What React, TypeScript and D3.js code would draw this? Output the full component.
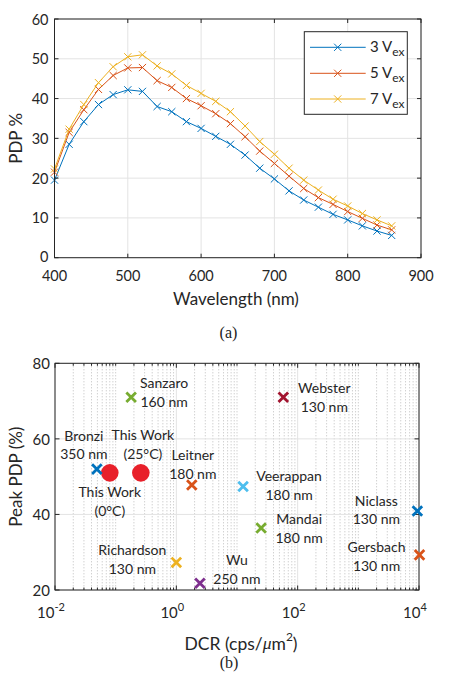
import React from "react";
import * as d3 from "d3";

// ---------- Data: chart (a) ----------
const wavelengths = [400, 420, 440, 460, 480, 500, 520, 540, 560, 580, 600, 620, 640, 660, 680, 700, 720, 740, 760, 780, 800, 820, 840, 860];
const pdp3V = [19.5, 28.5, 34.2, 38.5, 41.0, 42.2, 41.8, 38.0, 36.7, 34.2, 32.5, 30.5, 28.5, 25.8, 22.5, 19.8, 16.8, 14.5, 12.7, 10.9, 9.5, 8.0, 6.7, 5.6];
const pdp5V = [21.5, 31.5, 37.2, 42.3, 45.8, 47.7, 47.8, 44.5, 42.8, 40.0, 38.2, 36.2, 33.7, 30.4, 26.8, 23.7, 20.5, 17.4, 15.1, 13.4, 11.6, 9.9, 8.2, 7.0];
const pdp7V = [22.3, 32.3, 38.5, 44.0, 48.0, 50.5, 51.0, 48.2, 46.2, 43.3, 41.3, 39.3, 36.7, 33.1, 29.2, 26.0, 22.5, 19.5, 17.0, 14.7, 13.0, 11.1, 9.5, 8.0];
const seriesNames = ["3", "5", "7"];
const xTicksA = [400, 500, 600, 700, 800, 900];
const yTicksA = [0, 10, 20, 30, 40, 50, 60];

// ---------- Data: chart (b) ----------
const refNames = ["Bronzi", "Sanzaro", "Leitner", "Richardson", "Wu", "Webster", "Veerappan", "Mandai", "Niclass", "Gersbach"];
const refNodes = ["350 nm", "160 nm", "180 nm", "130 nm", "250 nm", "130 nm", "180 nm", "180 nm", "130 nm", "130 nm"];
const refDCR = [0.049, 0.18, 1.8, 1.0, 2.45, 58, 12.6, 25, 9400, 10200];
const refPDP = [52, 71, 47.8, 27.3, 21.8, 71, 47.4, 36.4, 40.9, 29.3];
const workNames = ["This Work", "This Work"];
const workTemps = ["(0°C)", "(25°C)"];
const workDCR = [0.08, 0.26];
const workPDP = [51, 51];
const xTicksB = [1e-2, 1, 1e2, 1e4];
const xTickExpB = ["-2", "0", "2", "4"];
const yTicksB = [20, 40, 60, 80];

// ---------- Styles / layout ----------
const lineColors = ["#0072BD", "#D95319", "#EDB120"];
const refColors = ["#0072BD", "#77AC30", "#D95319", "#EDB120", "#7E2F8E", "#A2142F", "#4DBEEE", "#77AC30", "#0072BD", "#D95319"];
const refLabelOffsets: [number, number][] = [
  [-13, -34], [33, -14.5], [1, -30], [-44, -12.7], [37, -23.3],
  [41, -9.4], [46, -11], [38, -9.3], [-41, -11], [-43, -8.3],
];
const workLabelOffsets: [number, number][] = [[0, 19], [2, -38.3]];
const FONT = "Lato, 'Open Sans', sans-serif";
const AX = "#262626";
const GRID = "#e3e3e3";

const XMark = ({ x, y, s, color, w }: { x: number; y: number; s: number; color: string; w: number }) => (
  <path d={`M${x - s},${y - s}L${x + s},${y + s}M${x - s},${y + s}L${x + s},${y - s}`} stroke={color} strokeWidth={w} fill="none" />
);

function ChartA() {
  const L = 54.5, R = 421, T = 19, B = 257.7;
  const x = d3.scaleLinear().domain([400, 900]).range([L, R]);
  const y = d3.scaleLinear().domain([0, 60]).range([B, T]);
  const all = [pdp3V, pdp5V, pdp7V];
  const line = d3.line<number>().x((_, i) => x(wavelengths[i])).y((d) => y(d));
  const legY = [47.3, 73.3, 99];
  return (
    <g>
      {xTicksA.map((t) => (
        <line key={"gx" + t} x1={x(t)} x2={x(t)} y1={T} y2={B} stroke={GRID} strokeWidth={1} />
      ))}
      {yTicksA.map((t) => (
        <line key={"gy" + t} x1={L} x2={R} y1={y(t)} y2={y(t)} stroke={GRID} strokeWidth={1} />
      ))}
      {all.map((s, k) => (
        <g key={"s" + k}>
          <path d={line(s) || ""} fill="none" stroke={lineColors[k]} strokeWidth={1} />
          {s.map((v, i) => (
            <XMark key={i} x={x(wavelengths[i])} y={y(v)} s={3.6} color={lineColors[k]} w={1} />
          ))}
        </g>
      ))}
      <rect x={L} y={T} width={R - L} height={B - T} fill="none" stroke={AX} strokeWidth={1} />
      {xTicksA.map((t) => (
        <g key={"tx" + t}>
          <line x1={x(t)} x2={x(t)} y1={B} y2={B - 4} stroke={AX} />
          <line x1={x(t)} x2={x(t)} y1={T} y2={T + 4} stroke={AX} />
          <text x={x(t)} y={275} textAnchor="middle" dominantBaseline="central" fontSize={14.5} fill={AX} fontFamily={FONT}>{t}</text>
        </g>
      ))}
      {yTicksA.map((t) => (
        <g key={"ty" + t}>
          <line x1={L} x2={L + 4} y1={y(t)} y2={y(t)} stroke={AX} />
          <line x1={R} x2={R - 4} y1={y(t)} y2={y(t)} stroke={AX} />
          <text x={48.5} y={y(t) - (t === 0 ? 1 : 0)} textAnchor="end" dominantBaseline="central" fontSize={14.5} fill={AX} fontFamily={FONT}>{t}</text>
        </g>
      ))}
      <text x={236} y={298.5} textAnchor="middle" dominantBaseline="central" fontSize={17} fill={AX} fontFamily={FONT}>Wavelength (nm)</text>
      <text transform={`translate(15,${(T + B) / 2}) rotate(-90)`} textAnchor="middle" dominantBaseline="central" fontSize={17} fill={AX} fontFamily={FONT}>PDP %</text>
      {/* legend */}
      <rect x={304.3} y={31.7} width={103} height={82.6} fill="#fff" stroke={AX} strokeWidth={1} />
      {seriesNames.map((n, k) => (
        <g key={"lg" + k}>
          <line x1={310} x2={365.7} y1={legY[k]} y2={legY[k]} stroke={lineColors[k]} strokeWidth={1} />
          <XMark x={337.7} y={legY[k]} s={3.6} color={lineColors[k]} w={1} />
          <text x={370} y={legY[k] + 4.5} fontSize={15} fill={AX} fontFamily={FONT}>
            {n} V<tspan fontSize={12} dy={4.5}>ex</tspan>
          </text>
        </g>
      ))}
      <text x={228.5} y={332} textAnchor="middle" dominantBaseline="central" fontSize={16} fill="#222" fontFamily="'Liberation Serif', 'DejaVu Serif', serif">(a)</text>
    </g>
  );
}

function ChartB() {
  const L = 55, R = 419, T = 363.3, B = 590;
  const x = d3.scaleLog().domain([1e-2, 1e4]).range([L, R]);
  const y = d3.scaleLinear().domain([20, 80]).range([B, T]);
  const minors: number[] = [];
  for (let e = -2; e < 4; e++) {
    for (let m = 1; m <= 9; m++) {
      const v = m * Math.pow(10, e);
      if (!xTicksB.some((t) => Math.abs(t - v) / v < 1e-9)) minors.push(v);
    }
  }
  return (
    <g>
      {minors.map((v, i) => (
        <line key={"mg" + i} x1={x(v)} x2={x(v)} y1={T} y2={B} stroke="#bdbdbd" strokeWidth={1} strokeDasharray="1,2" />
      ))}
      {xTicksB.map((t) => (
        <line key={"gx" + t} x1={x(t)} x2={x(t)} y1={T} y2={B} stroke={GRID} strokeWidth={1} />
      ))}
      {yTicksB.map((t) => (
        <line key={"gy" + t} x1={L} x2={R} y1={y(t)} y2={y(t)} stroke={GRID} strokeWidth={1} />
      ))}
      <rect x={L} y={T} width={R - L} height={B - T} fill="none" stroke={AX} strokeWidth={1} />
      {minors.map((v, i) => (
        <g key={"mt" + i}>
          <line x1={x(v)} x2={x(v)} y1={B} y2={B - 2.5} stroke={AX} />
          <line x1={x(v)} x2={x(v)} y1={T} y2={T + 2.5} stroke={AX} />
        </g>
      ))}
      {xTicksB.map((t, i) => (
        <g key={"tx" + t}>
          <line x1={x(t)} x2={x(t)} y1={B} y2={B - 4.5} stroke={AX} />
          <line x1={x(t)} x2={x(t)} y1={T} y2={T + 4.5} stroke={AX} />
          <text x={x(t) - 4} y={612} textAnchor="middle" dominantBaseline="central" fontSize={15} fill={AX} fontFamily={FONT}>
            10<tspan fontSize={11} dy={-6}>{xTickExpB[i]}</tspan>
          </text>
        </g>
      ))}
      {yTicksB.map((t) => (
        <g key={"ty" + t}>
          <line x1={L} x2={L + 4.5} y1={y(t)} y2={y(t)} stroke={AX} />
          <line x1={R} x2={R - 4.5} y1={y(t)} y2={y(t)} stroke={AX} />
          <text x={50} y={y(t)} textAnchor="end" dominantBaseline="central" fontSize={15} fill={AX} fontFamily={FONT}>{t}</text>
        </g>
      ))}
      {workDCR.map((d, i) => (
        <circle key={"w" + i} cx={x(d)} cy={y(workPDP[i])} r={8.8} fill="#E8202A" />
      ))}
      {refDCR.map((d, i) => (
        <XMark key={"r" + i} x={x(d)} y={y(refPDP[i])} s={4.8} color={refColors[i]} w={2.8} />
      ))}
      {refNames.map((n, i) => {
        const cx = x(refDCR[i]) + refLabelOffsets[i][0];
        const cy = y(refPDP[i]) + refLabelOffsets[i][1];
        return (
          <g key={"rl" + i} fontSize={14} fill={AX} fontFamily={FONT} textAnchor="middle">
            <text x={cx} y={cy} dominantBaseline="central">{n}</text>
            <text x={cx} y={cy + 18.6} dominantBaseline="central">{refNodes[i]}</text>
          </g>
        );
      })}
      {workNames.map((n, i) => {
        const cx = x(workDCR[i]) + workLabelOffsets[i][0];
        const cy = y(workPDP[i]) + workLabelOffsets[i][1];
        return (
          <g key={"wl" + i} fontSize={14} fill={AX} fontFamily={FONT} textAnchor="middle">
            <text x={cx} y={cy} dominantBaseline="central">{n}</text>
            <text x={cx} y={cy + 18.6} dominantBaseline="central">{workTemps[i]}</text>
          </g>
        );
      })}
      <text x={241} y={643} textAnchor="middle" dominantBaseline="central" fontSize={17.5} fill={AX} fontFamily={FONT}>
        DCR (cps/<tspan fontStyle="italic" fontFamily="'Liberation Serif', serif">μ</tspan>m<tspan fontSize={12} dy={-7}>2</tspan><tspan dy={7}>)</tspan>
      </text>
      <text transform={`translate(15,${(T + B) / 2}) rotate(-90)`} textAnchor="middle" dominantBaseline="central" fontSize={17} fill={AX} fontFamily={FONT}>Peak PDP (%)</text>
      <text x={229} y={662} textAnchor="middle" dominantBaseline="central" fontSize={16} fill="#222" fontFamily="'Liberation Serif', 'DejaVu Serif', serif">(b)</text>
    </g>
  );
}

export default function App() {
  return (
    <svg width={458} height={676} style={{ position: "absolute", left: 0, top: 0, background: "#fff" }}>
      <rect width={458} height={676} fill="#fff" />
      <ChartA />
      <ChartB />
    </svg>
  );
}
